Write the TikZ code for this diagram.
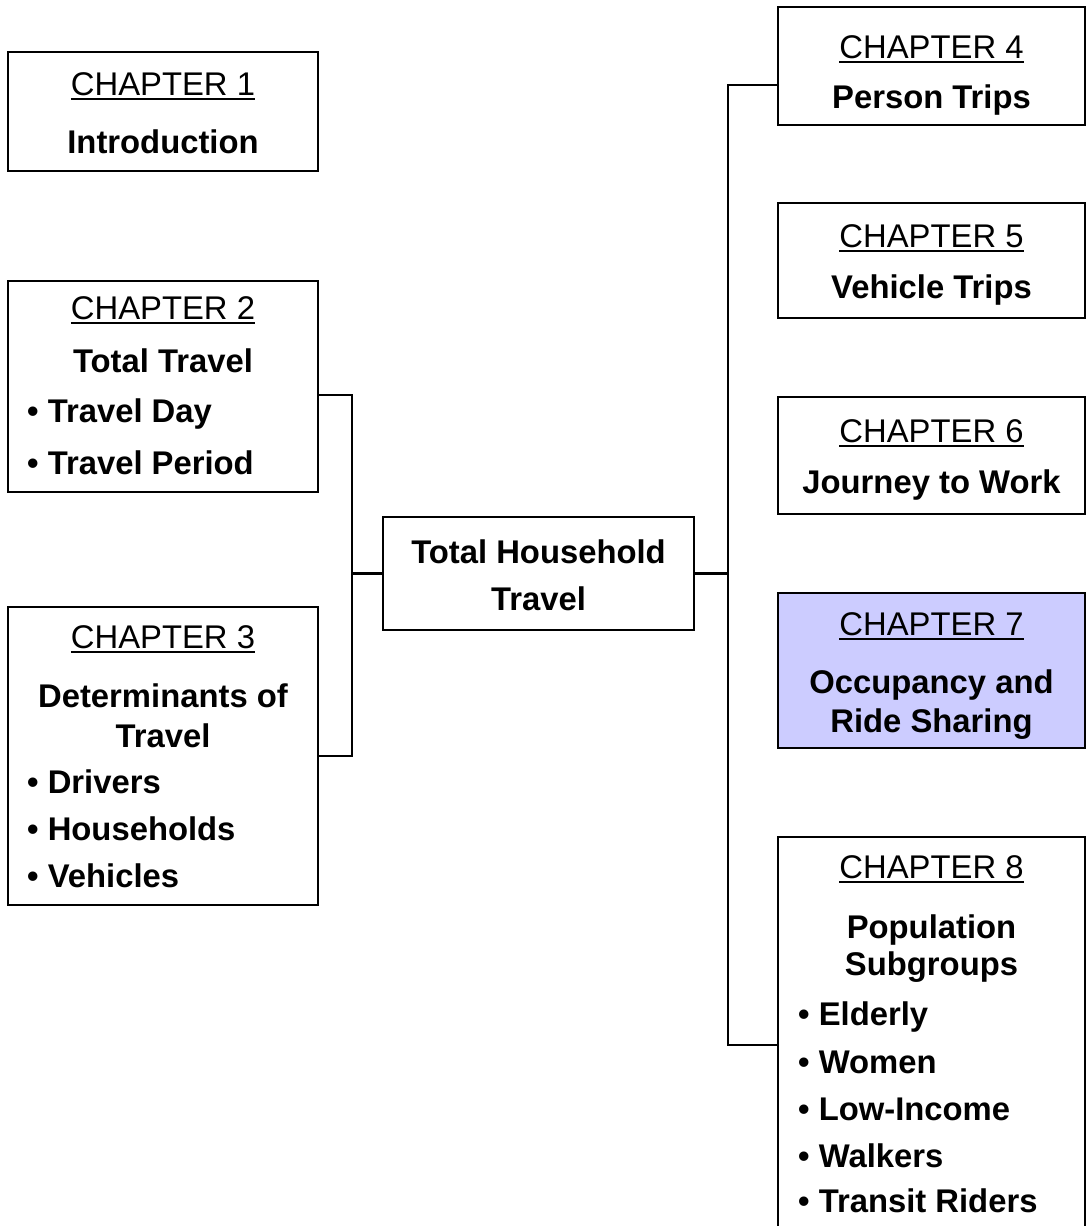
\documentclass[tikz,border=0pt]{standalone}
\usepackage{fontspec}
\setmainfont{Liberation Sans}
\newcommand\chapul[1]{\setbox0\hbox{#1}\rlap{\rule[-5pt]{\wd0}{2.2pt}}\box0}
\tikzset{
  box/.style={draw=black, line width=2.8pt, rectangle, inner sep=0pt},
  hibox/.style={box, fill=lavender},
  conn/.style={draw=black, line width=2.8pt},
  chap/.style={anchor=base, inner sep=0pt, font=\fontsize{32.8}{38}\selectfont},
  ttl/.style={anchor=base, inner sep=0pt, font=\fontsize{32.8}{38}\selectfont\bfseries},
  blt/.style={anchor=base west, inner sep=0pt, font=\fontsize{32.8}{38}\selectfont\bfseries},
}
\definecolor{lavender}{HTML}{CCCCFF}
\begin{document}
\begin{tikzpicture}[x=1pt,y=1pt]
\useasboundingbox (0,0) rectangle (1086,-1226);
\clip (0,0) rectangle (1086,-1226);
% boxes
\node[box, minimum width=310, minimum height=119] (c1) at (163,-111.5) {};
\node[box, minimum width=310, minimum height=211] (c2) at (163,-386.5) {};
\node[box, minimum width=310, minimum height=298] (c3) at (163,-756) {};
\node[box, minimum width=311, minimum height=113] (tht) at (538.5,-573.5) {};
\node[box, minimum width=307, minimum height=118] (c4) at (931.5,-66) {};
\node[box, minimum width=307, minimum height=115] (c5) at (931.5,-260.5) {};
\node[box, minimum width=307, minimum height=117] (c6) at (931.5,-455.5) {};
\node[hibox, minimum width=307, minimum height=155] (c7) at (931.5,-670.5) {};
\node[box, minimum width=307, minimum height=416] (c8) at (931.5,-1045) {};
% connectors
\coordinate (sl) at (352,-573.5);
\coordinate (sr) at (728,-573.5);
\draw[conn] ([yshift=-8.5pt]c2.east) -| (sl) |- (c3.east);
\draw[conn] (sl) -- (tht.west);
\draw[conn] (tht.east) -- (sr);
\draw[conn] ([yshift=-19pt]c4.west) -| (sr) |- (c8.west);
% chapter 1
\node[chap] (c1a) at (163,-95) {\chapul{CHAPTER 1}};
\node[ttl] (c1b) at (163,-153) {Introduction};
% chapter 2
\node[chap] (c2a) at (163,-319) {\chapul{CHAPTER 2}};
\node[ttl] (c2b) at (163,-372) {Total Travel};
\node[blt] (c2c) at (27,-422) {• Travel Day};
\node[blt] (c2d) at (27,-474) {• Travel Period};
% chapter 3
\node[chap] (c3a) at (163,-648) {\chapul{CHAPTER 3}};
\node[ttl] (c3b) at (163,-707) {Determinants of};
\node[ttl] (c3c) at (163,-747) {Travel};
\node[blt] (c3d) at (27,-793) {• Drivers};
\node[blt] (c3e) at (27,-840) {• Households};
\node[blt] (c3f) at (27,-887) {• Vehicles};
% center
\node[ttl] (tha) at (538.5,-563) {Total Household};
\node[ttl] (thb) at (538.5,-610) {Travel};
% chapter 4
\node[chap] (c4a) at (931.5,-58) {\chapul{CHAPTER 4}};
\node[ttl] (c4b) at (931.5,-108) {Person Trips};
% chapter 5
\node[chap] (c5a) at (931.5,-247) {\chapul{CHAPTER 5}};
\node[ttl] (c5b) at (931.5,-298) {Vehicle Trips};
% chapter 6
\node[chap] (c6a) at (931.5,-442) {\chapul{CHAPTER 6}};
\node[ttl] (c6b) at (931.5,-493) {Journey to Work};
% chapter 7
\node[chap] (c7a) at (931.5,-635) {\chapul{CHAPTER 7}};
\node[ttl] (c7b) at (931.5,-693) {Occupancy and};
\node[ttl] (c7c) at (931.5,-732) {Ride Sharing};
% chapter 8
\node[chap] (c8a) at (931.5,-878) {\chapul{CHAPTER 8}};
\node[ttl] (c8b) at (931.5,-938) {Population};
\node[ttl] (c8c) at (931.5,-975) {Subgroups};
\node[blt] (c8d) at (798,-1025) {• Elderly};
\node[blt] (c8e) at (798,-1073) {• Women};
\node[blt] (c8f) at (798,-1120) {• Low-Income};
\node[blt] (c8g) at (798,-1167) {• Walkers};
\node[blt] (c8h) at (798,-1212) {• Transit Riders};
\end{tikzpicture}
\end{document}
